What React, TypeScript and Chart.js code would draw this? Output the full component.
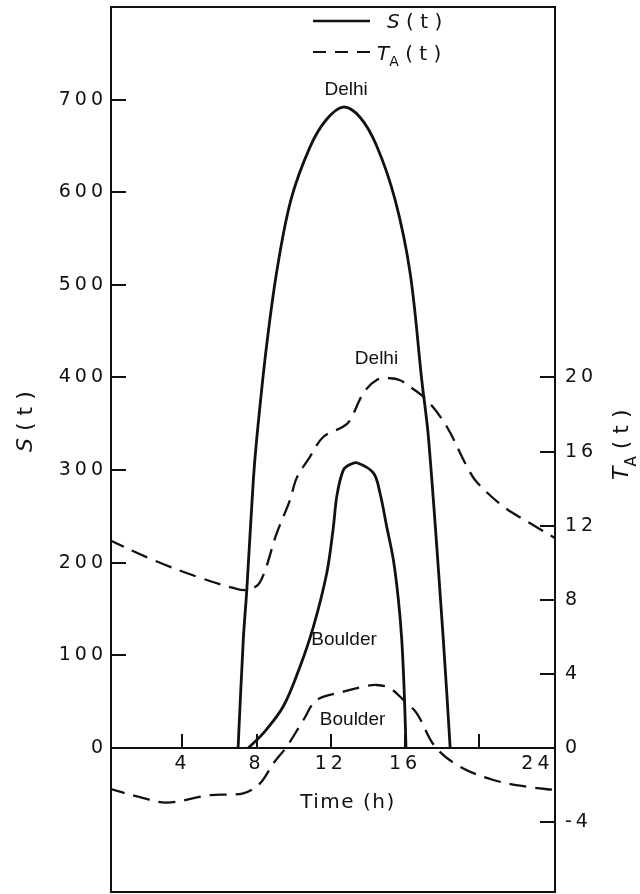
import { useEffect, useRef } from 'react';
import { Chart, registerables } from 'chart.js';

Chart.register(...registerables);

// ---- data (hours, values) ----
const DELHI_S_HOURS = [7.0, 7.28, 7.47, 7.82, 8.0, 8.51, 9.08, 9.85, 10.88, 11.74, 12.66, 13.57, 14.47, 15.46, 16.27, 16.9, 17.27, 18.06, 18.43];
const DELHI_S = [0, 117, 171, 289, 333, 430, 514, 592, 649, 678, 692, 681, 650, 592, 513, 397, 333, 117, 0];

const BOULDER_S_HOURS = [7.55, 8.36, 9.44, 10.34, 11.06, 11.78, 12.12, 12.33, 12.67, 13.03, 13.4, 14.29, 14.65, 15.01, 15.37, 15.64, 15.82, 15.95, 16.05];
const BOULDER_S = [0, 16, 45, 88, 131, 189, 236, 273, 300, 306, 308, 297, 275, 239, 203, 160, 117, 63, 0];

const DELHI_T_HOURS = [0, 2.43, 4.77, 6.74, 7.47, 8.18, 9.08, 9.8, 10.16, 10.88, 11.6, 12.67, 13.04, 13.75, 14.47, 15.19, 15.73, 16.27, 17.17, 18.25, 19.33, 19.87, 21.3, 22.74, 24.1];
const DELHI_T = [11.25, 10.15, 9.25, 8.64, 8.53, 8.95, 11.59, 13.39, 14.58, 15.73, 16.8, 17.35, 17.7, 19.15, 19.87, 19.96, 19.85, 19.5, 18.79, 17.34, 15.2, 14.35, 13.03, 12.13, 11.32];

const BOULDER_T_HOURS = [0, 1.62, 3.15, 5.49, 7.28, 8.18, 8.9, 9.62, 10.52, 11.24, 12.67, 13.75, 14.47, 15.19, 15.91, 16.63, 17.62, 18.96, 20.76, 22.56, 24.1];
const BOULDER_T = [-2.18, -2.63, -2.95, -2.54, -2.45, -1.91, -0.83, 0.07, 1.51, 2.59, 3.04, 3.31, 3.4, 3.22, 2.59, 1.87, 0.07, -1.01, -1.73, -2.09, -2.27];

// ---- axes ----
const X_MIN = 0.15;
const X_MAX = 24.08;
const S_MIN = -155.5;
const S_MAX = 800;
const T_MIN = -7.775;
const T_MAX = 40;
const S_TICKS = [0, 100, 200, 300, 400, 500, 600, 700];
const T_TICKS = [-4, 0, 4, 8, 12, 16, 20];
const X_TICKS = [X_MIN, 4, 8, 12, 16, 20, 24];
const X_TICK_LABELS = ['', '4', '8', '12', '16', '', '24'];
const X_TICK_MARKS = [4, 8, 12, 16, 20];

// ---- annotations ----
const LABEL_TEXTS = ['Delhi', 'Delhi', 'Boulder', 'Boulder'];
const LABEL_HOURS = [12.82, 14.46, 12.71, 13.17];
const LABEL_VALUES = [711, 21, 117, 1.5];
const LABEL_AXES = ['yS', 'yT', 'yS', 'yT'];

const INK = '#111111';
const TICK_FONT = 'DejaVu Sans';

type Seg = { text: string; font: string; dy: number };

function drawSegs(ctx: CanvasRenderingContext2D, x: number, y: number, segs: Seg[]) {
  let cx = x;
  for (const s of segs) {
    ctx.font = s.font;
    ctx.fillText(s.text, cx, y + s.dy);
    cx += ctx.measureText(s.text).width;
  }
}

const decor = {
  id: 'decor',
  beforeDraw(chart: any) {
    (chart.ctx as any).letterSpacing = '4px';
  },
  afterDraw(chart: any) {
    const ctx: CanvasRenderingContext2D = chart.ctx;
    const a = chart.chartArea;
    const xs = chart.scales.x;
    const ys = chart.scales.yS;
    const yt = chart.scales.yT;
    ctx.save();
    (ctx as any).letterSpacing = '0px';
    ctx.strokeStyle = INK;
    ctx.fillStyle = INK;
    ctx.lineWidth = 2;
    ctx.setLineDash([]);
    // frame
    ctx.strokeRect(a.left, a.top, a.right - a.left, a.bottom - a.top);
    // inward tick marks
    ctx.beginPath();
    S_TICKS.forEach((v) => {
      const y = Math.round(ys.getPixelForValue(v));
      ctx.moveTo(a.left, y);
      ctx.lineTo(a.left + 15, y);
    });
    T_TICKS.forEach((v) => {
      const y = Math.round(yt.getPixelForValue(v));
      ctx.moveTo(a.right - 15, y);
      ctx.lineTo(a.right, y);
    });
    const y0 = ys.getPixelForValue(0);
    X_TICK_MARKS.forEach((v) => {
      const x = Math.round(xs.getPixelForValue(v));
      ctx.moveTo(x, y0);
      ctx.lineTo(x, y0 - 14);
    });
    ctx.stroke();

    // legend
    ctx.lineWidth = 2.6;
    ctx.beginPath();
    ctx.moveTo(313, 21);
    ctx.lineTo(370, 21);
    ctx.stroke();
    ctx.lineWidth = 2.2;
    ctx.setLineDash([13, 9]);
    ctx.beginPath();
    ctx.moveTo(313, 52);
    ctx.lineTo(370, 52);
    ctx.stroke();
    ctx.setLineDash([]);
    ctx.textAlign = 'left';
    ctx.textBaseline = 'alphabetic';
    drawSegs(ctx, 387, 28, [
      { text: 'S', font: 'italic 20px "DejaVu Sans"', dy: 0 },
      { text: ' ( t )', font: '20px "DejaVu Sans"', dy: 0 },
    ]);
    drawSegs(ctx, 377, 60, [
      { text: 'T', font: 'italic 20px "DejaVu Sans"', dy: 0 },
      { text: 'A', font: '14px "DejaVu Sans"', dy: 6 },
      { text: ' ( t )', font: '20px "DejaVu Sans"', dy: 0 },
    ]);

    // curve labels
    ctx.font = '19px "Liberation Sans"';
    ctx.textAlign = 'center';
    ctx.textBaseline = 'middle';
    LABEL_TEXTS.forEach((t, i) => {
      const sc = chart.scales[LABEL_AXES[i]];
      ctx.fillText(t, xs.getPixelForValue(LABEL_HOURS[i]), sc.getPixelForValue(LABEL_VALUES[i]));
    });

    // x title
    (ctx as any).letterSpacing = '1.5px';
    ctx.font = '20px "DejaVu Sans"';
    ctx.fillText('Time (h)', xs.getPixelForValue(12.92), y0 + 55);
    (ctx as any).letterSpacing = '0px';

    // left title
    ctx.save();
    ctx.translate(32, 452);
    ctx.rotate(-Math.PI / 2);
    ctx.textAlign = 'left';
    ctx.textBaseline = 'alphabetic';
    drawSegs(ctx, 0, 0, [
      { text: 'S', font: 'italic 22px "DejaVu Sans"', dy: 0 },
      { text: ' ( t )', font: '22px "DejaVu Sans"', dy: 0 },
    ]);
    ctx.restore();

    // right title
    ctx.save();
    ctx.translate(628, 480);
    ctx.rotate(-Math.PI / 2);
    ctx.textAlign = 'left';
    ctx.textBaseline = 'alphabetic';
    drawSegs(ctx, 0, 0, [
      { text: 'T', font: 'italic 22px "DejaVu Sans"', dy: 0 },
      { text: 'A', font: '15px "DejaVu Sans"', dy: 8 },
      { text: ' ( t )', font: '22px "DejaVu Sans"', dy: 0 },
    ]);
    ctx.restore();

    ctx.restore();
  },
};

const toPts = (hs: number[], vs: number[]) => hs.map((h, i) => ({ x: h, y: vs[i] }));

export default function App() {
  const ref = useRef<HTMLCanvasElement | null>(null);
  useEffect(() => {
    if (!ref.current) return;
    const common = {
      pointRadius: 0,
      borderColor: INK,
      fill: false,
      tension: 0.35,
    };
    const chart = new Chart(ref.current, {
      type: 'line',
      data: {
        datasets: [
          { ...common, label: 'Delhi S(t)', data: toPts(DELHI_S_HOURS, DELHI_S), yAxisID: 'yS', borderWidth: 2.8 },
          { ...common, label: 'Boulder S(t)', data: toPts(BOULDER_S_HOURS, BOULDER_S), yAxisID: 'yS', borderWidth: 2.8 },
          { ...common, label: 'Delhi TA(t)', data: toPts(DELHI_T_HOURS, DELHI_T), yAxisID: 'yT', borderWidth: 2.3, borderDash: [17, 9] },
          { ...common, label: 'Boulder TA(t)', data: toPts(BOULDER_T_HOURS, BOULDER_T), yAxisID: 'yT', borderWidth: 2.3, borderDash: [17, 9] },
        ],
      },
      options: {
        responsive: false,
        animation: false,
        devicePixelRatio: 1,
        layout: { padding: { left: 0, right: 0, top: 7, bottom: 2 } },
        plugins: { legend: { display: false }, tooltip: { enabled: false } },
        events: [],
        scales: {
          x: {
            type: 'linear',
            min: X_MIN,
            max: X_MAX,
            position: { yS: 0 } as any,
            afterBuildTicks: (s: any) => {
              s.ticks = X_TICKS.map((v) => ({ value: v }));
            },
            afterFit: (s: any) => {
              s.paddingLeft = 0;
              s.paddingRight = 0;
              s.paddingTop = 0;
              s.paddingBottom = 0;
            },
            grid: { display: false, drawTicks: false },
            border: { display: true, color: INK, width: 2 },
            ticks: {
              autoSkip: false,
              maxRotation: 0,
              align: 'inner',
              padding: 5,
              color: INK,
              font: { family: TICK_FONT, size: 19 },
              callback: (_v: any, i: number) => X_TICK_LABELS[i],
            },
          },
          yS: {
            type: 'linear',
            position: 'left',
            min: S_MIN,
            max: S_MAX,
            afterBuildTicks: (s: any) => {
              s.ticks = S_TICKS.map((v) => ({ value: v }));
            },
            afterFit: (s: any) => {
              s.width = 111;
              s.paddingTop = 0;
              s.paddingBottom = 0;
            },
            grid: { display: false, drawTicks: false },
            border: { display: false },
            ticks: {
              padding: 4,
              color: INK,
              font: { family: TICK_FONT, size: 19 },
              callback: (v: any) => String(v),
            },
          },
          yT: {
            type: 'linear',
            position: 'right',
            min: T_MIN,
            max: T_MAX,
            afterBuildTicks: (s: any) => {
              s.ticks = T_TICKS.map((v) => ({ value: v }));
            },
            afterFit: (s: any) => {
              s.width = 85;
              s.paddingTop = 0;
              s.paddingBottom = 0;
            },
            grid: { display: false, drawTicks: false },
            border: { display: false },
            ticks: {
              padding: 10,
              color: INK,
              font: { family: TICK_FONT, size: 19 },
              callback: (v: any) => String(v),
            },
          },
        },
      } as any,
      plugins: [decor],
    });
    return () => chart.destroy();
  }, []);
  return (
    <div style={{ position: 'absolute', left: 0, top: 0, width: 640, height: 894, background: '#fff' }}>
      <canvas ref={ref} width={640} height={894} style={{ display: 'block', width: 640, height: 894 }} />
    </div>
  );
}
